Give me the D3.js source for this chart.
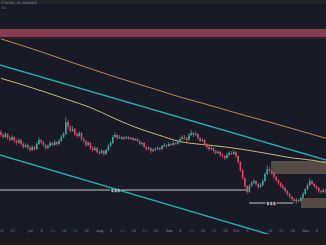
<!DOCTYPE html>
<html><head><meta charset="utf-8">
<script src="https://cdn.jsdelivr.net/npm/d3@7"></script>
<style>html,body{margin:0;padding:0;background:#181b26;overflow:hidden}</style>
</head><body><svg id="c" width="326" height="245"></svg>
<script>
// ---------- data ----------
const firstDay = "2023-06-18";
const opens = [1180,1150,1130,1160,1120,1100,1130,1090,1070,1100,1060,1030,1050,1020,1000,1030,1010,1060,1100,1080,1050,1020,1040,1070,1050,1080,1060,1090,1130,1160,1280,1230,1190,1210,1160,1140,1170,1110,1090,1050,1070,1020,1000,1020,980,970,990,960,1000,1040,1070,1130,1150,1120,1130,1110,1120,1130,1110,1120,1100,1110,1090,1060,1070,1030,1010,1020,990,1000,1010,1020,1010,1040,1050,1040,1060,1050,1070,1060,1080,1110,1130,1120,1100,1150,1170,1150,1160,1120,1090,1100,1060,1030,1010,1020,990,970,980,950,940,920,950,970,960,980,940,880,800,720,640,580,640,670,690,660,630,650,690,760,810,790,770,730,700,670,640,620,590,560,530,510,490,500,490,520,560,610,650,690,660,640,620,590,580,600];
const closes = [1150,1130,1160,1120,1100,1130,1090,1070,1100,1060,1030,1050,1020,1000,1030,1010,1060,1100,1080,1050,1020,1040,1070,1050,1080,1060,1090,1130,1160,1280,1230,1190,1210,1160,1140,1170,1110,1090,1050,1070,1020,1000,1020,980,970,990,960,1000,1040,1070,1130,1150,1120,1130,1110,1120,1130,1110,1120,1100,1110,1090,1060,1070,1030,1010,1020,990,1000,1010,1020,1010,1040,1050,1040,1060,1050,1070,1060,1080,1110,1130,1120,1100,1150,1170,1150,1160,1120,1090,1100,1060,1030,1010,1020,990,970,980,950,940,920,950,970,960,980,940,880,800,720,640,580,640,670,690,660,630,650,690,760,810,790,770,730,700,670,640,620,590,560,530,510,490,500,490,520,560,610,650,690,660,640,620,590,580,600,590];
const highs = [1200,1170,1180,1170,1140,1150,1140,1110,1120,1110,1080,1070,1060,1040,1050,1040,1080,1130,1110,1090,1060,1060,1090,1080,1100,1090,1110,1150,1180,1330,1300,1250,1240,1220,1180,1190,1180,1130,1100,1090,1080,1040,1040,1030,1000,1010,1000,1010,1060,1090,1150,1180,1160,1150,1140,1140,1140,1140,1130,1130,1120,1120,1100,1080,1080,1040,1040,1030,1020,1030,1040,1030,1050,1070,1060,1080,1070,1090,1080,1100,1130,1150,1150,1130,1170,1200,1180,1190,1170,1130,1120,1110,1070,1040,1040,1030,1000,1000,990,970,950,970,990,990,1000,990,950,890,810,730,650,660,690,710,700,670,670,710,780,850,830,800,780,740,710,680,660,630,600,570,540,520,520,510,530,580,620,670,720,700,670,650,630,600,620,610];
const lows = [1130,1110,1120,1100,1080,1090,1070,1050,1060,1040,1010,1020,1000,980,990,990,1000,1050,1060,1030,1000,1010,1030,1040,1040,1040,1050,1080,1120,1150,1210,1170,1180,1140,1120,1130,1090,1070,1030,1040,1000,980,990,960,950,960,940,950,990,1030,1060,1120,1100,1110,1100,1100,1110,1100,1100,1090,1090,1080,1050,1040,1020,990,1000,960,980,990,1000,990,1000,1030,1020,1030,1040,1040,1050,1050,1070,1100,1100,1080,1090,1140,1130,1140,1100,1080,1080,1050,1010,990,1000,970,950,960,930,920,900,910,940,950,950,920,860,780,700,620,560,570,630,660,640,610,620,640,680,750,770,750,710,680,650,620,600,570,540,510,490,470,460,470,480,510,550,600,640,650,620,600,570,560,570,570];

const maDays = [0,10,20,30,40,50,60,70,80,90,100,110,120,130,140,146];
const maSlow = [2112,2041,1967,1889,1813,1738,1669,1600,1530,1468,1404,1339,1280,1215,1151,1112];
const maFast = [1717,1650,1578,1502,1425,1323,1228,1153,1084,1055,1031,999,961,921,895,870];

const channelDays = [-2, 147];
const channelUpper = [1860, 889];
const channelLower = [961, -24];

const resistanceBand = [2210, 2130, 2110];   // top, bottom, shadow bottom
const boxDays = [120.7, 134.1];
const boxTops = [890, 520];
const boxBottoms = [760, 420];

const liqPrices = [600, 470];
const liqFrom = [-1, 110.9];
const liqTo = [110.4, 130.5];
const liqLabelAt = [51.2, 120.7];
const liqLabels = ["$$$", "$$$"];

const tickDates = ["2023-06-18","2023-06-23","2023-07-01","2023-07-06","2023-07-11","2023-07-16","2023-07-21","2023-07-26","2023-08-01","2023-08-06","2023-08-11","2023-08-16","2023-08-21","2023-08-26","2023-09-01","2023-09-06","2023-09-11","2023-09-16","2023-09-21","2023-09-26","2023-10-01","2023-10-06","2023-10-11","2023-10-16","2023-10-21","2023-10-26","2023-11-01","2023-11-06"];
const tickLabels = ["18","23","Jul","6","11","16","21","26","Aug","6","11","16","21","26","Sep","6","11","16","21","26","Oct","6","11","16","21","26","Nov","6"];

// ---------- layout ----------
const W = 326, H = 245, plotBottom = 234;
const svg = d3.select("#c");
const t0 = Date.parse(firstDay + "T00:00:00Z");
const dayDate = k => new Date(t0 + k * 864e5);

const x = d3.scaleUtc()
  .domain([new Date(Date.UTC(2023,6,1)), new Date(Date.UTC(2023,10,1))])
  .range([30, 305.3]);
const y = d3.scaleLinear().domain([2500, 200]).range([0, 230]);

svg.append("rect").attr("width", W).attr("height", H).attr("fill", "#181b26");
svg.append("rect").attr("width", W).attr("height", 4).attr("fill", "#222327");
svg.append("rect").attr("y", plotBottom).attr("width", W).attr("height", H - plotBottom).attr("fill", "#1d1a1b");

svg.append("defs").append("clipPath").attr("id", "plot")
  .append("rect").attr("x", 0).attr("y", 4).attr("width", W).attr("height", plotBottom - 4);
const g = svg.append("g").attr("clip-path", "url(#plot)");

// resistance band
g.append("rect").attr("x", 0).attr("width", W)
  .attr("y", y(resistanceBand[0])).attr("height", y(resistanceBand[2]) - y(resistanceBand[0]))
  .attr("fill", "#2e1a24");
g.append("rect").attr("x", 0).attr("width", W)
  .attr("y", y(resistanceBand[0])).attr("height", y(resistanceBand[1]) - y(resistanceBand[0]))
  .attr("fill", "#873b51");

// boxes
boxDays.forEach((d, i) => {
  g.append("rect").attr("x", x(dayDate(d))).attr("width", W)
    .attr("y", y(boxTops[i])).attr("height", y(boxBottoms[i]) - y(boxTops[i]))
    .attr("fill", "#5b5248").attr("opacity", 0.9);
});

// MAs
const maLine = vals => d3.line().curve(d3.curveMonotoneX)
  .x((d, i) => x(dayDate(maDays[i]))).y(d => y(d))(vals);
g.append("path").attr("d", maLine(maSlow)).attr("fill", "none").attr("stroke", "#c2844a").attr("stroke-width", 1);
g.append("path").attr("d", maLine(maFast)).attr("fill", "none").attr("stroke", "#c9b673").attr("stroke-width", 1);

// channel
[channelUpper, channelLower].forEach(vals => {
  g.append("line")
    .attr("x1", x(dayDate(channelDays[0]))).attr("y1", y(vals[0]))
    .attr("x2", x(dayDate(channelDays[1]))).attr("y2", y(vals[1]))
    .attr("stroke", "#27adb0").attr("stroke-width", 1.4);
});

// liquidity lines
liqPrices.forEach((p, i) => {
  const yy = y(p), lx = x(dayDate(liqLabelAt[i]));
  g.append("line").attr("x1", x(dayDate(liqFrom[i]))).attr("x2", lx - 5.5)
    .attr("y1", yy).attr("y2", yy).attr("stroke", "#c4c4c8").attr("stroke-width", 1);
  g.append("line").attr("x1", lx + 5.5).attr("x2", x(dayDate(liqTo[i])))
    .attr("y1", yy).attr("y2", yy).attr("stroke", "#c4c4c8").attr("stroke-width", 1);
  g.append("text").attr("x", lx).attr("y", yy + 1.7).attr("text-anchor", "middle")
    .attr("font-family", "DejaVu Sans, sans-serif").attr("font-size", 4.6).attr("font-weight", "bold")
    .attr("fill", "#d0d0d4").text(liqLabels[i]);
});

// candles
const up = "#2fae9a", down = "#e0465e";
const cg = g.append("g");
opens.forEach((o, i) => {
  const c = closes[i], cx = x(dayDate(i));
  const col = c >= o ? up : down;
  cg.append("line").attr("x1", cx).attr("x2", cx)
    .attr("y1", y(highs[i])).attr("y2", y(lows[i]))
    .attr("stroke", col).attr("stroke-width", 0.7);
  const top = y(Math.max(o, c)), bot = y(Math.min(o, c));
  cg.append("rect").attr("x", cx - 0.8).attr("width", 1.6)
    .attr("y", top).attr("height", Math.max(0.7, bot - top)).attr("fill", col);
});

// x axis
const axis = d3.axisBottom(x)
  .tickValues(tickDates.map(s => new Date(s + "T00:00:00Z")))
  .tickFormat((d, i) => tickLabels[i]).tickSize(0).tickPadding(0);
const ax = svg.append("g").attr("transform", "translate(0,229.3)").call(axis);
ax.select(".domain").remove();
ax.selectAll("text").attr("font-family", "DejaVu Sans, sans-serif").attr("font-size", 3.6)
  .attr("fill", (d, i) => isNaN(+tickLabels[i]) ? "#8a8d95" : "#6c6f78");

// header
svg.append("text").attr("x", 1).attr("y", 3.6).attr("font-family", "DejaVu Sans, sans-serif")
  .attr("font-size", 3.2).attr("fill", "#8d9098").text("ETHUSD, 1D, BINANCE");
svg.append("text").attr("x", 1).attr("y", 8.8).attr("font-family", "DejaVu Sans, sans-serif")
  .attr("font-size", 3.2).attr("fill", "#7a7d86").text("Vol");
</script></body></html>
